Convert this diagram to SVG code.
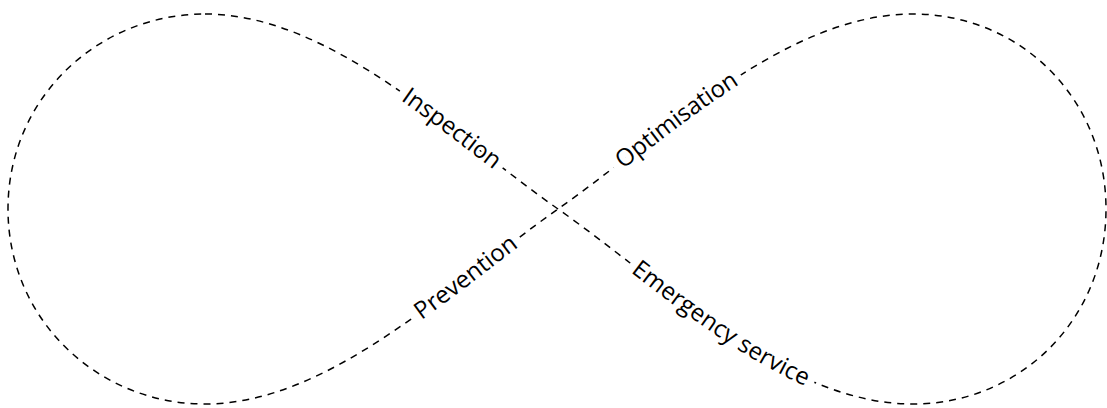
<svg xmlns="http://www.w3.org/2000/svg" xmlns:xlink="http://www.w3.org/1999/xlink" width="1107" height="408" viewBox="0 0 1107 408">
  <style>
    .loop { fill: none; stroke: #000; stroke-width: 1.5; stroke-dasharray: 7 6; }
    .lbls { font-family: "Open Sans", "Noto Sans", "DejaVu Sans", sans-serif; font-size: 24px; fill: #000; }
  </style>
  <defs>
    <path id="segA" d="M 205 14 C 330 14 450 133 558 209"/>
    <path id="segB" d="M 558 209 C 666 285 786 404 913 404"/>
    <path id="segC" d="M 558 209 C 666 133 786 14 913 14"/>
    <path id="segD" d="M 205 404 C 330 404 450 285 558 209"/>
    <mask id="gaps" maskUnits="userSpaceOnUse" x="0" y="0" width="1107" height="408">
      <rect width="1107" height="408" fill="#fff"/>
      <g class="lbls" style="fill:#000;stroke:#000;stroke-width:16;stroke-linejoin:round">
        <use href="#t-insp" xlink:href="#t-insp"/>
        <use href="#t-opt" xlink:href="#t-opt"/>
        <use href="#t-prev" xlink:href="#t-prev"/>
        <use href="#t-emer" xlink:href="#t-emer"/>
      </g>
    </mask>
  </defs>
  <rect width="1107" height="408" fill="#fff"/>
  <g id="connectors" mask="url(#gaps)">
    <path class="loop" d="M 205 14 C 330 14 450 133 558 209 C 666 285 786 404 913 404 C 1020 404 1106 320 1106 209 C 1106 98 1020 14 913 14 C 786 14 666 133 558 209 C 450 285 330 404 205 404 C 98 404 8 320 8 209 C 8 98 98 14 205 14 Z"/>
  </g>
  <g class="lbls">
    <g id="inspection">
      <text id="t-insp" dy="7" text-anchor="middle"><textPath href="#segA" xlink:href="#segA" startOffset="67.5%">Inspection</textPath></text>
    </g>
    <g id="optimisation">
      <text id="t-opt" dy="7" text-anchor="middle"><textPath href="#segC" xlink:href="#segC" startOffset="36%">Optimisation</textPath></text>
    </g>
    <g id="prevention">
      <text id="t-prev" dy="7" text-anchor="middle"><textPath href="#segD" xlink:href="#segD" startOffset="72%">Prevention</textPath></text>
    </g>
    <g id="emergency">
      <text id="t-emer" dy="7" text-anchor="middle"><textPath href="#segB" xlink:href="#segB" startOffset="48.5%">Emergency service</textPath></text>
    </g>
  </g>
</svg>
